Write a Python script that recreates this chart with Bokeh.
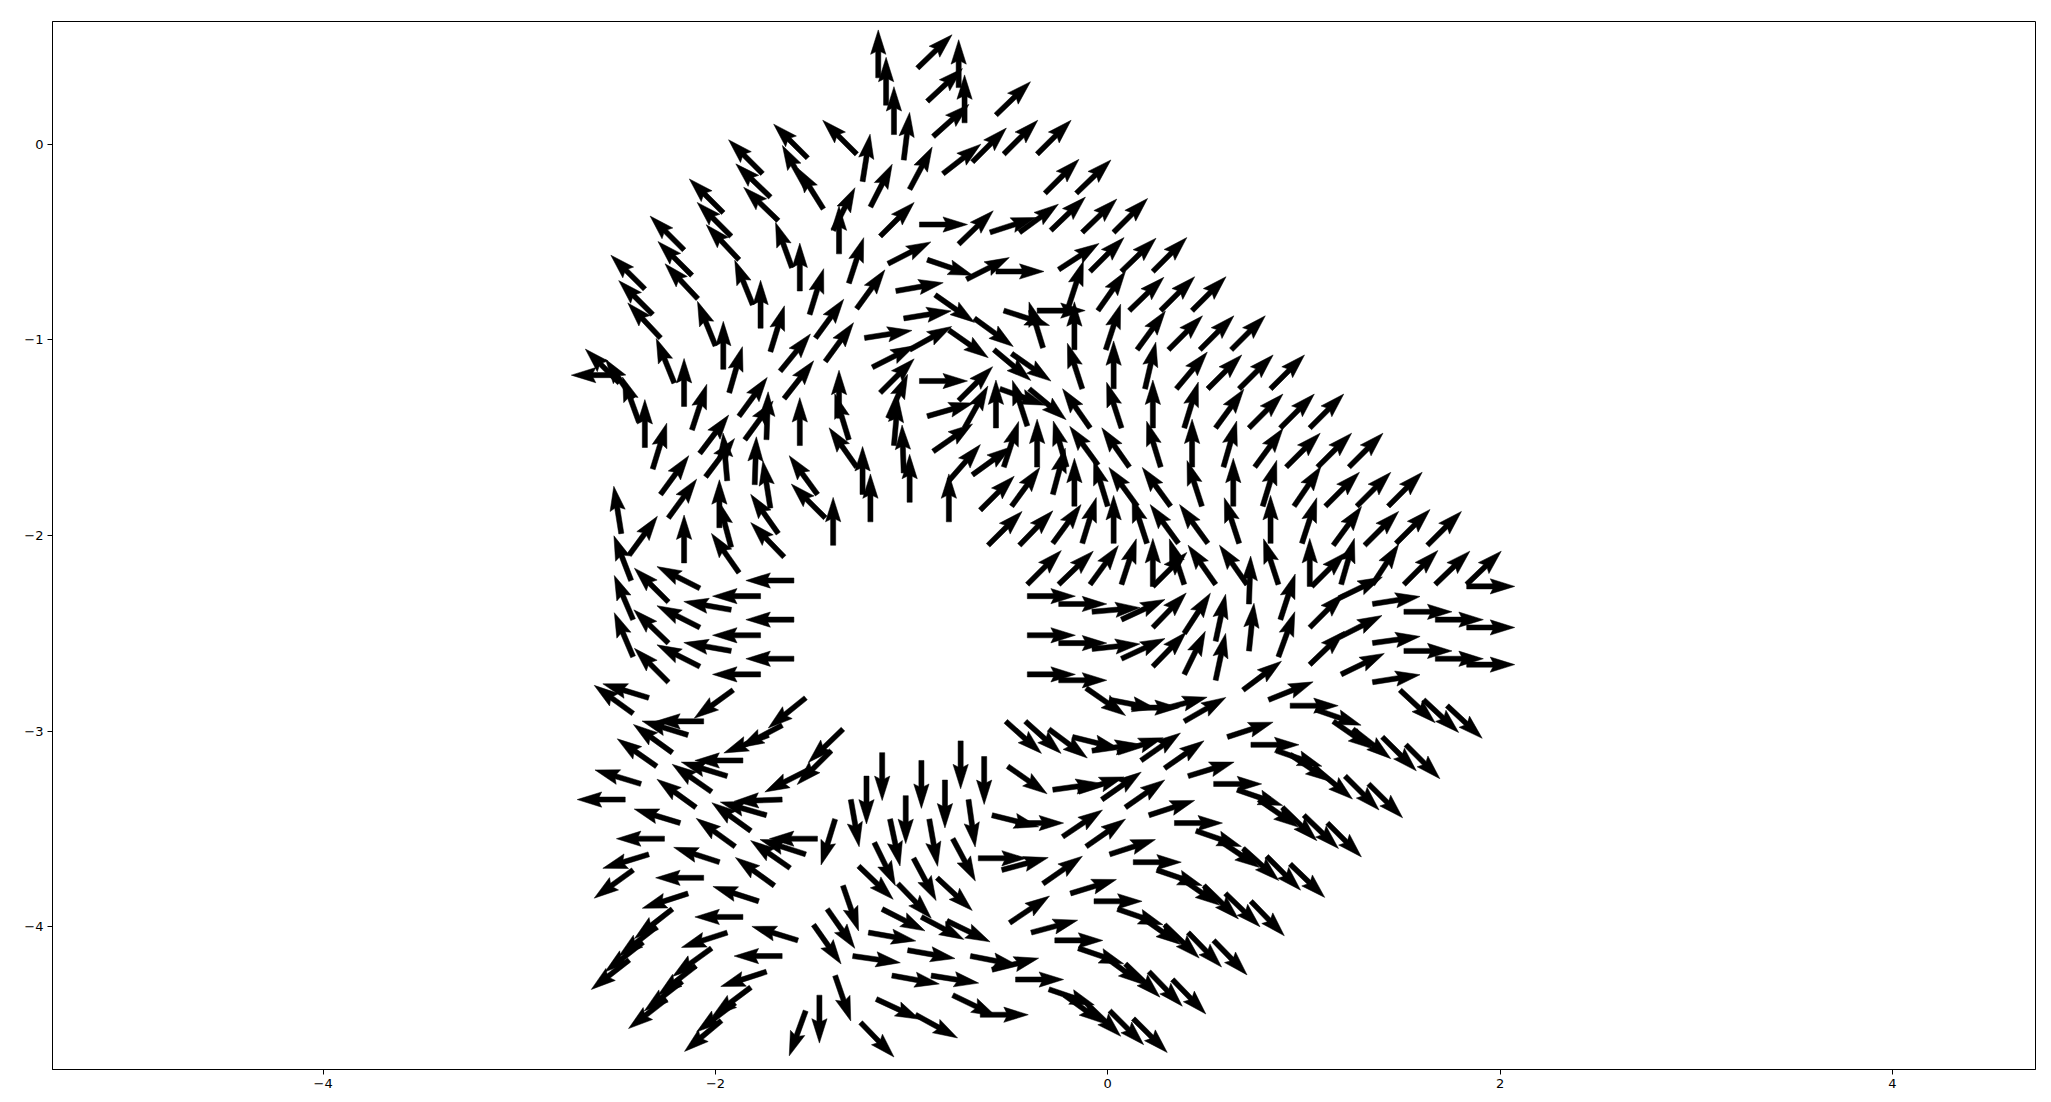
import math
from bokeh.plotting import figure
from bokeh.models import Range1d, FixedTicker
from bokeh.embed import file_html
from bokeh.resources import INLINE

# Each entry: (tail x, tail y, direction in degrees)
TOP_LEFT = [
    (-1.53, -0.07, 135), (-1.54, -0.22, 119), (-1.45, -0.33, 122),
    (-1.76, -0.15, 135), (-1.72, -0.27, 136), (-1.68, -0.39, 136), (-1.61, -0.63, 110), (-1.57, -0.75, 90),
    (-1.96, -0.35, 135), (-1.92, -0.47, 135), (-1.88, -0.59, 133), (-1.81, -0.82, 112), (-1.77, -0.94, 90),
    (-2.16, -0.54, 135), (-2.12, -0.67, 135), (-2.09, -0.79, 133), (-2.00, -1.03, 112), (-1.96, -1.15, 90),
    (-2.36, -0.74, 135), (-2.32, -0.87, 135), (-2.28, -0.99, 133), (-2.21, -1.22, 112), (-2.16, -1.34, 90),
    (-2.49, -1.18, 180), (-2.49, -1.22, 135), (-2.42, -1.30, 125), (-2.39, -1.42, 110), (-2.36, -1.55, 90),
    (-1.72, -1.06, 73), (-1.67, -1.16, 51),
]

TOP_MID = [
    (-1.17, 0.34, 90), (-1.13, 0.20, 90), (-1.09, 0.05, 90), (-1.04, -0.08, 83),
    (-0.97, 0.39, 44), (-0.76, 0.29, 90), (-0.92, 0.22, 43), (-0.73, 0.11, 90), (-0.89, 0.04, 42), (-0.57, 0.15, 44),
    (-1.28, -0.05, 135), (-1.25, -0.19, 81), (-1.21, -0.32, 63), (-1.01, -0.23, 62), (-0.84, -0.15, 38),
    (-0.69, -0.09, 45), (-0.53, -0.05, 45), (-0.36, -0.05, 45),
    (-1.37, -0.56, 90), (-1.40, -0.44, 63), (-1.16, -0.47, 45), (-0.96, -0.41, 0), (-0.76, -0.51, 44),
    (-0.60, -0.45, 18), (-0.45, -0.45, 36),
    (-1.32, -0.71, 72), (-1.12, -0.61, 27), (-0.92, -0.59, -19), (-0.72, -0.69, 27), (-0.57, -0.65, 0),
    (-1.28, -0.84, 54), (-1.52, -0.87, 73), (-1.08, -0.75, 10), (-0.88, -0.77, -35),
    (-1.49, -0.99, 54), (-1.44, -1.11, 54), (-1.04, -0.89, 9), (-1.24, -0.99, 9), (-1.01, -1.05, 29), (-1.20, -1.14, 27),
    (-0.81, -0.95, -35), (-0.68, -0.89, -36), (-0.53, -0.85, -18), (-0.33, -1.04, 107), (-0.36, -0.85, 0),
    (-0.58, -1.05, -40), (-0.49, -1.07, -35),
]

CENTER_TOP = [
    (-0.96, -1.21, 0), (-0.92, -1.39, 16), (-0.89, -1.57, 35), (-0.73, -1.45, 61), (-0.76, -1.31, 45),
    (-0.57, -1.45, 90), (-0.41, -1.44, 108), (-0.55, -1.25, -20), (-0.40, -1.25, -40),
    (-0.53, -1.65, 72), (-0.36, -1.65, 90), (-0.69, -1.69, 36), (-0.81, -1.72, 49), (-0.81, -1.93, 90),
    (-0.65, -1.87, 45), (-0.49, -1.85, 54), (-0.61, -2.05, 45), (-0.45, -2.05, 46), (-0.41, -2.25, 45),
    (-1.40, -2.05, 90), (-1.21, -1.93, 90), (-1.25, -1.79, 90), (-1.28, -1.65, 125), (-1.01, -1.83, 90),
    (-1.04, -1.68, 92), (-1.09, -1.54, 85), (-1.12, -1.40, 66), (-1.16, -1.27, 45), (-1.32, -1.51, 107),
    (-1.37, -1.40, 90),
]

TOP_RIGHT = [
    (-0.32, -0.25, 45), (-0.16, -0.25, 44),
    (-0.29, -0.44, 44), (-0.13, -0.45, 44), (0.03, -0.45, 45),
    (-0.25, -0.64, 33), (-0.09, -0.65, 45), (0.07, -0.65, 44), (0.23, -0.65, 45),
    (-0.20, -0.83, 72), (-0.05, -0.85, 55), (0.11, -0.85, 44), (0.27, -0.85, 45), (0.43, -0.85, 45),
    (-0.17, -1.05, 90), (-0.01, -1.05, 72), (0.15, -1.05, 54), (0.31, -1.05, 45), (0.47, -1.05, 45), (0.63, -1.05, 45),
    (-0.13, -1.25, 108), (0.03, -1.25, 90), (0.19, -1.25, 77), (0.35, -1.25, 50), (0.51, -1.25, 45),
    (0.67, -1.25, 45), (0.83, -1.25, 45),
    (-0.09, -1.45, 125), (0.07, -1.45, 108), (0.23, -1.45, 90), (0.39, -1.45, 73), (0.55, -1.45, 54),
    (0.72, -1.45, 45), (0.88, -1.45, 45), (1.03, -1.45, 45),
    (-0.21, -1.65, 106), (-0.05, -1.64, 126), (0.11, -1.65, 125), (0.27, -1.65, 107), (0.43, -1.65, 90),
    (0.59, -1.65, 74), (0.75, -1.65, 54), (0.91, -1.65, 45), (1.07, -1.65, 45), (1.23, -1.65, 45),
    (-0.28, -1.79, 75), (-0.17, -1.85, 90), (0.00, -1.85, 107), (0.15, -1.85, 126), (0.32, -1.85, 126),
    (0.48, -1.85, 108), (0.64, -1.85, 90), (0.79, -1.85, 73), (0.95, -1.85, 56), (1.11, -1.85, 45),
    (1.27, -1.85, 45), (1.43, -1.85, 45),
    (-0.28, -2.04, 54), (-0.13, -2.04, 73), (0.03, -2.04, 90), (0.20, -2.04, 108), (0.36, -2.04, 126),
    (0.51, -2.04, 126), (0.67, -2.04, 108), (0.83, -2.04, 90), (0.99, -2.04, 72), (1.15, -2.05, 54),
    (1.31, -2.05, 45), (1.47, -2.04, 45), (1.63, -2.05, 45),
    (-0.25, -2.25, 44), (-0.09, -2.25, 54), (0.07, -2.25, 72), (0.23, -2.26, 90), (0.23, -2.26, 45),
    (0.39, -2.25, 108), (0.55, -2.25, 125), (0.71, -2.25, 125), (0.87, -2.25, 108), (1.03, -2.26, 90),
    (1.04, -2.26, 45), (1.19, -2.25, 74), (1.35, -2.25, 57), (1.51, -2.25, 45), (1.67, -2.25, 44),
    (1.83, -2.25, 44), (1.83, -2.26, 0),
]

RIGHT = [
    (-0.41, -2.31, 0), (-0.41, -2.51, 0), (-0.41, -2.71, 0),
    (-0.25, -2.35, 0), (-0.08, -2.39, 5), (0.07, -2.43, 25), (0.23, -2.47, 46), (0.39, -2.50, 57),
    (0.55, -2.54, 78), (0.72, -2.59, 84), (0.72, -2.35, 88), (0.88, -2.43, 72),
    (-0.25, -2.55, 0), (-0.08, -2.58, 6), (0.07, -2.63, 25), (0.23, -2.67, 46), (0.39, -2.71, 64),
    (0.55, -2.74, 78), (0.69, -2.79, 37), (0.87, -2.62, 70), (0.82, -2.84, 22),
    (-0.25, -2.74, 0), (-0.11, -2.78, -35), (0.01, -2.84, -11), (0.12, -2.88, 0), (0.27, -2.89, 15), (0.39, -2.95, 30),
    (1.03, -2.47, 45), (1.18, -2.32, 26), (1.35, -2.35, 9), (1.51, -2.39, 0), (1.67, -2.43, 0), (1.83, -2.47, 0),
    (1.03, -2.66, 44), (1.18, -2.52, 27), (1.35, -2.55, 8), (1.51, -2.59, 0), (1.67, -2.63, 0), (1.83, -2.66, 0),
    (1.19, -2.71, 26), (1.35, -2.75, 9),
    (0.93, -2.87, 0), (1.06, -2.89, -19), (1.49, -2.79, -43), (1.61, -2.84, -43), (1.73, -2.87, -43),
]

LOWER_RIGHT = [
    (1.15, -2.95, -35), (1.25, -2.99, -38), (1.40, -3.03, -45), (1.52, -3.07, -45),
    (-0.30, -2.99, -37), (-0.18, -3.03, -14), (-0.08, -3.10, 8), (0.05, -3.11, 18), (0.17, -3.15, 35),
    (0.29, -3.19, 35), (0.41, -3.23, 17), (0.54, -3.27, 0), (0.66, -3.30, -19), (0.77, -3.35, -35),
    (0.89, -3.39, -44), (1.00, -3.43, -44), (1.12, -3.47, -45),
    (0.61, -3.03, 18), (0.73, -3.07, 0), (0.86, -3.10, -19),
    (0.93, -3.12, -34), (1.06, -3.19, -40), (1.21, -3.23, -45), (1.33, -3.27, -45),
    (-0.28, -3.30, 8), (-0.15, -3.31, 18), (-0.03, -3.35, 35), (0.09, -3.39, 35), (0.21, -3.43, 18),
    (0.34, -3.47, 0), (0.45, -3.51, -19), (0.57, -3.56, -34), (0.69, -3.60, -42), (0.81, -3.64, -45),
    (0.93, -3.68, -44),
    (-0.23, -3.54, 34), (-0.11, -3.59, 35), (0.01, -3.63, 18), (0.13, -3.67, 0), (0.25, -3.71, -19),
    (0.37, -3.75, -35), (0.49, -3.79, -44), (0.60, -3.83, -44), (0.73, -3.87, -46),
    (-0.33, -3.78, 35), (-0.19, -3.83, 17), (-0.07, -3.87, 0), (0.05, -3.91, -19), (0.17, -3.95, -35),
    (0.29, -3.99, -44), (0.41, -4.03, -46), (0.54, -4.07, -46),
    (-0.27, -4.07, 0), (-0.15, -4.11, -19), (-0.02, -4.15, -36), (0.09, -4.19, -44), (0.21, -4.23, -46),
    (0.33, -4.27, -46),
    (-0.30, -4.32, -19), (-0.22, -4.35, -36), (-0.11, -4.39, -44), (0.01, -4.43, -45), (0.13, -4.47, -45),
]

BOTTOM = [
    (-1.35, -2.99, 224), (-1.41, -3.10, 225),
    (-1.15, -3.11, -90), (-1.23, -3.23, -90), (-1.31, -3.35, -80), (-0.95, -3.15, -90), (-1.03, -3.33, -90),
    (-0.75, -3.05, -90), (-0.83, -3.25, -90), (-0.63, -3.13, -90), (-0.71, -3.35, -82),
    (-1.39, -3.45, -107), (-1.11, -3.45, -78), (-0.91, -3.45, -80),
    (-1.19, -3.57, -64), (-0.99, -3.65, -62), (-0.79, -3.55, -62),
    (-1.27, -3.69, -44), (-1.07, -3.78, -46), (-0.87, -3.75, -43),
    (-1.35, -3.79, -71), (-1.43, -3.91, -55), (-1.50, -3.99, -55),
    (-1.15, -3.91, -27), (-0.95, -3.95, -28), (-0.82, -3.97, -26),
    (-1.22, -4.03, -10), (-1.30, -4.15, -8), (-1.02, -4.12, -10), (-1.10, -4.25, -10), (-0.70, -4.15, -11),
    (-0.90, -4.25, -9), (-0.59, -4.22, 14),
    (-1.18, -4.37, -25), (-0.98, -4.45, -29), (-0.79, -4.35, -26), (-0.65, -4.45, 0),
    (-1.39, -4.25, -71), (-1.47, -4.35, -90), (-1.26, -4.49, -46),
    (-0.52, -2.95, -42), (-0.42, -2.95, -42),
    (-0.51, -3.18, -35), (-0.59, -3.43, -14), (-0.47, -3.47, 0), (-0.66, -3.65, 0), (-0.54, -3.71, 15),
    (-0.50, -3.98, 34), (-0.39, -4.03, 15), (-0.47, -4.27, 0),
]

LOWER_LEFT = [
    (-2.14, -3.02, 163), (-2.06, -2.95, 180), (-2.22, -3.11, 144), (-2.30, -3.18, 145), (-2.38, -3.27, 163),
    (-2.46, -3.35, 180), (-2.18, -3.47, 163), (-2.26, -3.55, 180), (-2.34, -3.63, 197), (-2.42, -3.71, 216),
    (-2.10, -3.39, 144), (-2.02, -3.31, 145), (-1.94, -3.23, 163), (-1.86, -3.15, 180),
    (-1.66, -2.97, 208), (-1.73, -3.02, 202), (-1.53, -3.20, 207), (-1.66, -3.35, 182), (-1.74, -3.43, 164),
    (-1.82, -3.51, 144), (-1.90, -3.59, 144), (-1.98, -3.67, 162), (-2.06, -3.75, 180), (-2.14, -3.83, 198),
    (-2.22, -3.91, 218), (-2.30, -4.00, 218), (-2.37, -4.08, 218), (-2.44, -4.17, 218),
    (-1.62, -3.70, 145), (-1.54, -3.63, 162), (-1.48, -3.55, 180), (-1.70, -3.79, 144), (-1.78, -3.87, 162),
    (-1.86, -3.95, 180), (-1.94, -4.03, 198), (-2.02, -4.11, 216), (-2.10, -4.20, 218), (-2.17, -4.28, 218),
    (-2.25, -4.37, 218),
    (-1.58, -4.07, 163), (-1.66, -4.15, 180), (-1.74, -4.23, 198), (-1.82, -4.31, 217), (-1.90, -4.39, 217),
    (-1.97, -4.48, 220), (-1.54, -4.43, 250),
    (-2.42, -2.91, 144), (-2.34, -2.83, 163), (-1.91, -2.79, 216), (-1.54, -2.83, 219),
]

LEFT = [
    (-2.32, -1.66, 73), (-2.12, -1.46, 72), (-2.28, -1.79, 54), (-2.08, -1.58, 53), (-1.93, -1.27, 74),
    (-1.88, -1.39, 54), (-1.65, -1.30, 52), (-2.05, -1.70, 53), (-2.24, -1.91, 54), (-1.85, -1.51, 54),
    (-1.80, -1.74, 88), (-1.72, -1.86, 99), (-1.74, -1.51, 88),
    (-1.57, -1.54, 90), (-1.48, -1.79, 126), (-1.44, -1.91, 135),
    (-2.16, -2.14, 90),
    (-1.94, -1.72, 95), (-1.98, -1.96, 90), (-1.92, -2.06, 105), (-1.88, -2.19, 125),
    (-1.68, -1.99, 125), (-1.65, -2.11, 134),
    (-2.48, -1.99, 99), (-2.44, -2.10, 54),
    (-2.43, -2.23, 111), (-2.24, -2.34, 135), (-2.42, -2.43, 113), (-2.24, -2.55, 136), (-2.42, -2.62, 113),
    (-2.24, -2.75, 135),
    (-2.08, -2.27, 153), (-2.08, -2.47, 153), (-2.08, -2.67, 153), (-1.92, -2.38, 170), (-1.92, -2.59, 170),
    (-1.77, -2.31, 180), (-1.77, -2.51, 180), (-1.77, -2.71, 180),
    (-1.60, -2.23, 180), (-1.60, -2.43, 180), (-1.60, -2.63, 180),
]

REGIONS = [TOP_LEFT, TOP_MID, CENTER_TOP, TOP_RIGHT, RIGHT, LOWER_RIGHT, BOTTOM, LOWER_LEFT, LEFT]

X_TICKS = [-4, -2, 0, 2, 4]
Y_TICKS = [-4, -3, -2, -1, 0]

# arrow shape (data units; the two axes have practically the same scale)
ARROW_LEN = 0.245
SHAFT_W = 0.026
HEAD_LEN = 0.125
HEAD_AXIS = 0.112
HEAD_W = 0.078

shape = [(0.0, -SHAFT_W / 2), (ARROW_LEN - HEAD_AXIS, -SHAFT_W / 2),
         (ARROW_LEN - HEAD_LEN, -HEAD_W / 2), (ARROW_LEN, 0.0),
         (ARROW_LEN - HEAD_LEN, HEAD_W / 2), (ARROW_LEN - HEAD_AXIS, SHAFT_W / 2),
         (0.0, SHAFT_W / 2)]

xs, ys = [], []
for region in REGIONS:
    for (x0, y0, ang) in region:
        c = math.cos(math.radians(ang))
        s = math.sin(math.radians(ang))
        xs.append([x0 + px * c - py * s for px, py in shape])
        ys.append([y0 + px * s + py * c for px, py in shape])

p = figure(width=2051, height=1102,
           x_range=Range1d(-5.38, 4.73), y_range=Range1d(-4.73, 0.628),
           output_backend="svg", toolbar_location=None,
           min_border_left=52, min_border_right=16, min_border_top=21, min_border_bottom=33)
p.background_fill_color = "white"
p.border_fill_color = "white"
p.grid.visible = False
p.outline_line_color = "black"
p.outline_line_width = 1
p.outline_line_alpha = 1.0

p.patches(xs, ys, fill_color="black", line_color="black", line_width=0.5)

p.xaxis.ticker = FixedTicker(ticks=X_TICKS)
p.yaxis.ticker = FixedTicker(ticks=Y_TICKS)
p.xaxis.major_label_overrides = {t: (str(t).replace("-", "\u2212")) for t in X_TICKS}
p.yaxis.major_label_overrides = {t: (str(t).replace("-", "\u2212")) for t in Y_TICKS}
for ax in (p.xaxis, p.yaxis):
    ax.axis_line_color = "black"
    ax.major_tick_line_color = "black"
    ax.major_tick_in = 0
    ax.major_tick_out = 5
    ax.minor_tick_in = 0
    ax.minor_tick_out = 0
    ax.major_label_text_font = "DejaVu Sans"
    ax.major_label_text_font_size = "13px"
    ax.major_label_text_color = "black"
    ax.major_label_standoff = 4

open("out.html", "w").write(file_html(p, INLINE))
